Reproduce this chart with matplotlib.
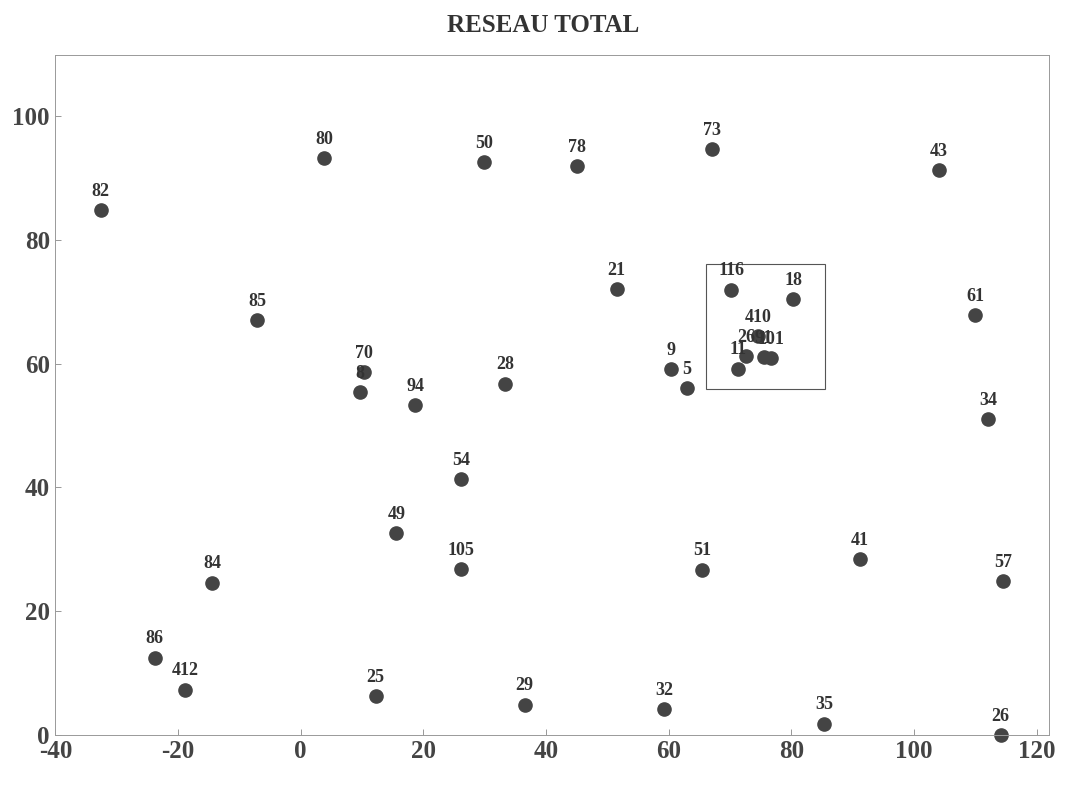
import matplotlib
matplotlib.use('Agg')
import matplotlib.pyplot as plt
from matplotlib.patches import Rectangle

# Noeuds du reseau
labels = ['82', '80', '50', '78', '73', '43', '85', '21', '116', '18', '61',
          '70', '8', '94', '28', '9', '5', '410', '26', '91', '101', '11',
          '34', '54', '49', '105', '84', '51', '41', '57', '86', '412',
          '25', '29', '32', '35', '26']
xs = [-32.6, 3.8, 29.9, 45.1, 67.1, 104.0, -7.1, 51.5, 70.2, 80.3, 110.0,
      10.3, 9.6, 18.7, 33.3, 60.4, 62.9, 74.6, 72.6, 75.5, 76.6, 71.3,
      112.1, 26.2, 15.6, 26.2, -14.4, 65.4, 91.2, 114.5, -23.8, -18.8,
      12.2, 36.5, 59.2, 85.3, 114.1]
ys = [84.9, 93.2, 92.6, 92.0, 94.7, 91.3, 67.1, 72.1, 72.0, 70.5, 67.9,
      58.7, 55.4, 53.3, 56.8, 59.1, 56.1, 64.5, 61.2, 61.1, 60.9, 59.2,
      51.1, 41.4, 32.6, 26.8, 24.6, 26.7, 28.4, 24.8, 12.5, 7.3,
      6.3, 4.9, 4.1, 1.8, 0.0]

# zone agrandie
zone_x = [66.0, 85.5]
zone_y = [56.0, 76.2]

xticks = [-40, -20, 0, 20, 40, 60, 80, 100, 120]
yticks = [0, 20, 40, 60, 80, 100]

plt.rcParams['font.family'] = ['Liberation Serif', 'DejaVu Serif']
plt.rcParams['font.weight'] = 'bold'
plt.rcParams['axes.unicode_minus'] = False

fig = plt.figure(figsize=(10.65, 7.91), dpi=100)
ax = fig.add_axes([0.052, 0.071, 0.933, 0.86])

ax.plot(xs, ys, 'o', color='#444444', markersize=9.5, clip_on=False)
for lab, x, y in zip(labels, xs, ys):
    ax.annotate(lab, (x, y), xytext=(0, 13.5), textcoords='offset points',
                ha='center', va='center', fontsize=13, color='#333333')

ax.add_patch(Rectangle((zone_x[0], zone_y[0]), zone_x[1] - zone_x[0],
                       zone_y[1] - zone_y[0], fill=False,
                       edgecolor='#555555', linewidth=0.8))

ax.set_xlim(-40, 122)
ax.set_ylim(0, 110)
ax.set_xticks(xticks)
ax.set_yticks(yticks)
ax.tick_params(direction='in', length=4, width=0.6, color='#888888',
               labelsize=18, labelcolor='#444444', pad=4)
for s in ax.spines.values():
    s.set_color('#999999')
    s.set_linewidth(0.7)

fig.text(0.51, 0.968, 'RESEAU TOTAL', ha='center', va='center',
         fontsize=18, fontweight='bold', color='#333333')

fig.savefig('out.png', dpi=100)
